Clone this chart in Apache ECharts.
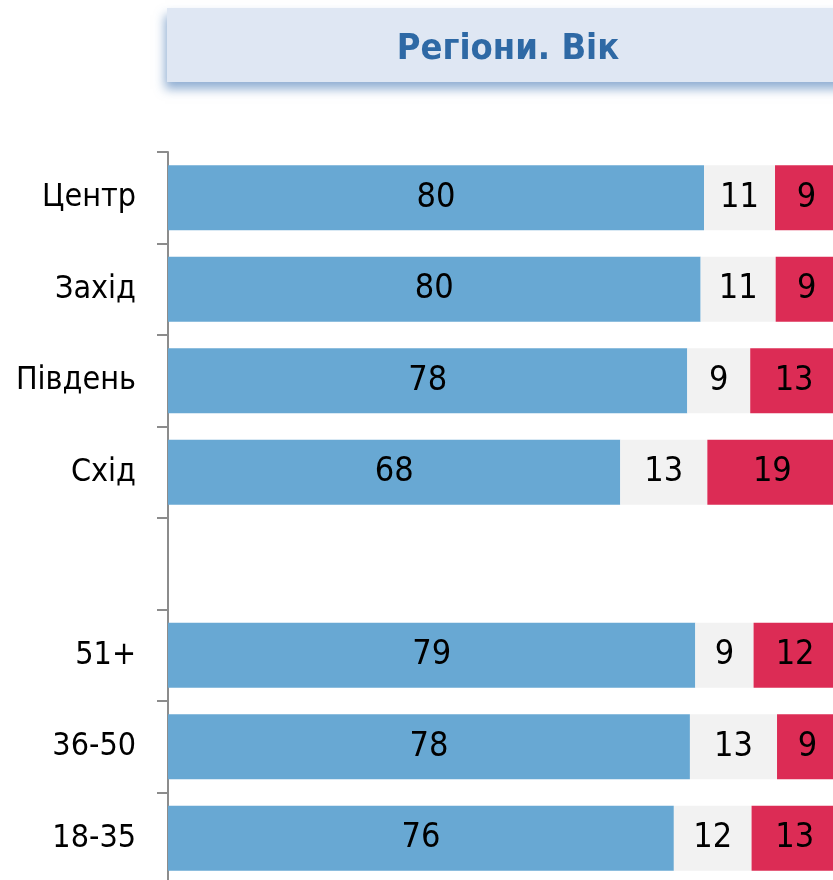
<!DOCTYPE html>
<html>
<head>
<meta charset="utf-8">
<script src="https://cdn.jsdelivr.net/npm/echarts@6/dist/echarts.min.js"></script>
<style>
  html, body { margin: 0; padding: 0; background: #fff; }
  #container { width: 833px; height: 880px; }
</style>
</head>
<body>
<div id="container"></div>
<script>
var categories = ['Центр', 'Захід', 'Південь', 'Схід', '', '51+', '36-50', '18-35'];
var positive = [80.0, 79.5, 77.5, 67.5, null, 78.7, 77.9, 75.5];
var hardToSay = [10.6, 11.2, 9.4, 13.0, null, 8.7, 13.0, 11.6];
var negative = [9.4, 9.3, 13.1, 19.4, null, 12.4, 9.1, 12.9];

var narrow = "'Liberation Sans Narrow', 'Arial Narrow', 'DejaVu Sans Condensed', sans-serif";

var dom = document.getElementById('container');
var myChart = echarts.init(dom);

function barSeries(name, data, color) {
    return {
        name: name,
        type: 'bar',
        stack: 'total',
        barWidth: 65,
        data: data,
        itemStyle: { color: color },
        label: {
            show: true,
            position: 'inside',
            color: '#000',
            fontFamily: narrow,
            fontSize: 34,
            formatter: function (p) {
                return p.value == null ? '' : Math.round(p.value);
            }
        }
    };
}

var option = {
    animation: false,
    graphic: [{
        type: 'rect',
        z: -1,
        shape: { x: 167, y: 8, width: 700, height: 74 },
        style: {
            fill: '#dfe7f3',
            shadowBlur: 10,
            shadowOffsetX: -2,
            shadowOffsetY: 7,
            shadowColor: 'rgba(70,120,180,0.6)'
        }
    }],
    title: {
        text: 'Регіони. Вік',
        left: 503,
        top: 27,
        textAlign: 'center',
        textStyle: {
            color: '#2e69a5',
            fontFamily: narrow,
            fontWeight: 'bold',
            fontSize: 36
        }
    },
    grid: {
        left: 168,
        top: 152,
        width: 670,
        height: 732,
        outerBoundsMode: 'none'
    },
    xAxis: {
        type: 'value',
        min: 0,
        max: 100,
        show: false
    },
    yAxis: {
        type: 'category',
        inverse: true,
        data: categories,
        axisLine: { show: true, lineStyle: { color: '#8c8c8c', width: 2 } },
        axisTick: { show: true, length: 11, lineStyle: { color: '#8c8c8c', width: 2 } },
        axisLabel: {
            margin: 32,
            color: '#000',
            fontFamily: narrow,
            fontSize: 32
        }
    },
    series: [
        barSeries('Позитивно', positive, '#68a8d3'),
        barSeries('Важко сказати', hardToSay, '#f2f2f2'),
        barSeries('Негативно', negative, '#dc2c55')
    ]
};

myChart.setOption(option);
</script>
</body>
</html>
